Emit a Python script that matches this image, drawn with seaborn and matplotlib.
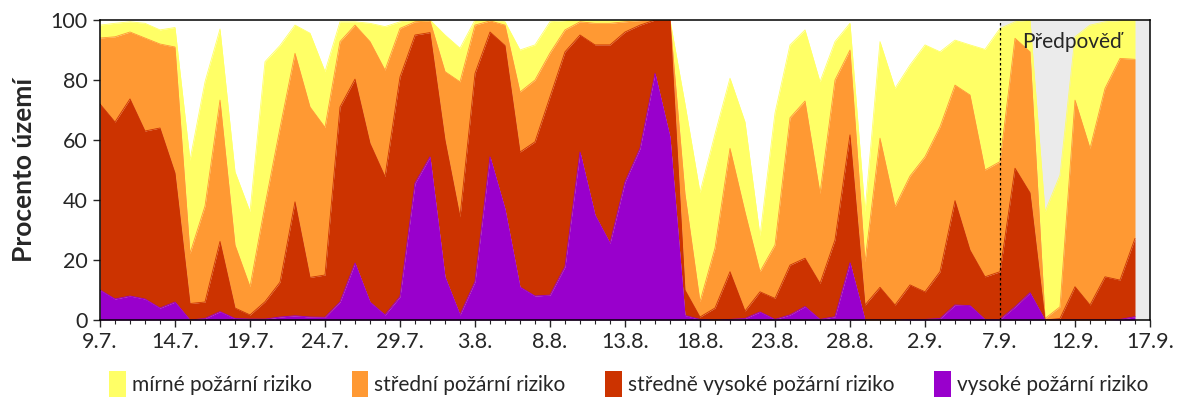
import numpy as np
import matplotlib
matplotlib.use("Agg")
import matplotlib.pyplot as plt
from matplotlib.patches import Patch
import seaborn as sns

# day index 0 = 9.7., one value per day up to 16.9.
days = np.arange(70)
tick_pos = np.arange(0, 71, 5)
tick_labels = ["9.7.", "14.7.", "19.7.", "24.7.", "29.7.", "3.8.", "8.8.", "13.8.",
               "18.8.", "23.8.", "28.8.", "2.9.", "7.9.", "12.9.", "17.9."]
forecast_start = 60  # 7.9.

# cumulative percentage of territory (stacked from the bottom)
vysoke = [10, 7, 8, 7, 4, 6, 0, 0.5, 2.8, 0.5, 0.3, 0.3, 1, 1.4, 1,
          0.9, 6, 19, 6, 1.7, 7.8, 45.6, 54.4, 14.4, 1.7, 12.8, 54.4, 37, 11,
          8, 8.3, 17.8, 56, 35, 25.6, 46, 57.2, 82.2, 61, 1.5, 0.2, 0,
          0.2, 0.5, 2.7, 0.2, 1.7, 4.5, 0.2, 1.1, 19.1, 0, 0, 0, 0.2,
          0.2, 0.5, 5, 4.8, 0.2, 0.2, 4.4, 9.1, 0, 0, 0, 0, 0, 0.2, 1.1]
stredne_vysoke = [72, 66, 73.7, 63, 64, 49, 5.5, 6, 26.2, 4, 1.7, 6.1, 12.6, 39.4, 14.2,
                  15, 71, 80.3, 58.9, 47.8, 81, 95, 95.8, 60, 34.4, 82.2, 96, 91.5, 56,
                  59.4, 74.4, 89.4, 95, 91.7, 91.7, 96, 98.3, 100, 100, 10, 1, 4,
                  16.1, 3, 9.4, 7.2, 18.3, 20.6, 12.2, 26.7, 61.7, 5, 10.9, 5, 11.7,
                  9.4, 16.1, 39.8, 23.3, 14.4, 16.1, 50.6, 42.4, 0, 0.5, 11.1, 5, 14.4, 13.3, 27.2]
stredni = [94, 94.4, 96, 94, 92, 91, 22.2, 38, 73.3, 25, 11.1, 38.3, 64, 88.9, 71,
           64.2, 92.8, 98.3, 92.8, 83.3, 97.2, 99.4, 99.7, 82.8, 79.4, 98.3, 99.7, 98.3, 76,
           80, 89, 96.7, 99.4, 98.9, 98.9, 99.4, 99.8, 100, 100, 42, 6.1, 24,
           57.2, 36, 16.1, 25, 67.4, 73, 42.2, 80, 90, 19.4, 60.6, 37.8, 48,
           54.4, 64.4, 78.3, 75, 50, 52.8, 93.9, 89.4, 0.5, 4.4, 73.3, 57.2, 77.2, 87.2, 86.9]
mirne = [98.3, 98.9, 99.4, 98.9, 96.7, 97.5, 53.3, 79.4, 97, 49.4, 36.1, 86.1, 91.5, 98.3, 95.6,
         82.8, 99.4, 99.4, 98.9, 97.8, 99.4, 100, 100, 95, 90.6, 100, 100, 99.4, 90,
         91.7, 99.4, 99.8, 100, 100, 100, 100, 100, 100, 100, 72, 42.5, 62,
         80.6, 66, 28, 69, 91.7, 96.7, 79.4, 92.8, 98.9, 36.1, 92.8, 77.2, 85,
         91.7, 89.4, 93.3, 91.7, 90.2, 97.2, 99.4, 100, 36.1, 48.3, 94.4, 98.3, 99.4, 99.8, 100]

labels = ["mírné požární riziko", "střední požární riziko",
          "středně vysoké požární riziko", "vysoké požární riziko"]
colors = ["#FFFF66", "#FF9933", "#CC3300", "#9900CC"]

sns.set_style("ticks")
plt.rcParams["font.family"] = ["Lato", "DejaVu Sans"]

fig = plt.figure(figsize=(12, 4), dpi=100)
ax = fig.add_axes([100 / 1200, 80 / 400, 1050 / 1200, 300 / 400])

# forecast background
ax.axvspan(forecast_start, 70, color="#EBEBEB", lw=0, zorder=0)

layers = [mirne, stredni, stredne_vysoke, vysoke]
bottoms = [stredni, stredne_vysoke, vysoke, np.zeros(len(days))]
for top, bottom, col in zip(layers, bottoms, colors):
    ax.fill_between(days, bottom, top, color=col, lw=0, zorder=1)
    sns.lineplot(x=days, y=top, color=col, lw=0.6, ax=ax, zorder=1)

ax.axvline(forecast_start, color="black", ls=(0, (2, 2)), lw=0.9, zorder=3)
ax.text(61.5, 92.5, "Předpověď", fontsize=15, va="center", ha="left", zorder=4)

ax.set_xlim(0, 70)
ax.set_ylim(0, 100)
ax.set_xticks(tick_pos)
ax.set_xticklabels(tick_labels)
ax.set_xticks(days, minor=True)
ax.set_yticks(np.arange(0, 101, 20))
ax.tick_params(axis="both", which="major", labelsize=15.5, length=5, width=1, pad=4)
ax.tick_params(axis="x", which="minor", length=3, width=0.8)
for s in ax.spines.values():
    s.set_linewidth(1.1)
    s.set_color("black")
ax.set_xlabel("")
ax.set_ylabel("Procento území", fontsize=19, fontweight="bold", labelpad=10)

handles = [Patch(facecolor=c, edgecolor="none", label=l) for c, l in zip(colors, labels)]
fig.legend(handles=handles, loc="center", bbox_to_anchor=(0.524, 0.04), ncol=4,
           frameon=False, fontsize=15, handlelength=0.8, handleheight=1.5,
           handletextpad=0.3, columnspacing=1.9)

fig.savefig("out.png", dpi=100)
